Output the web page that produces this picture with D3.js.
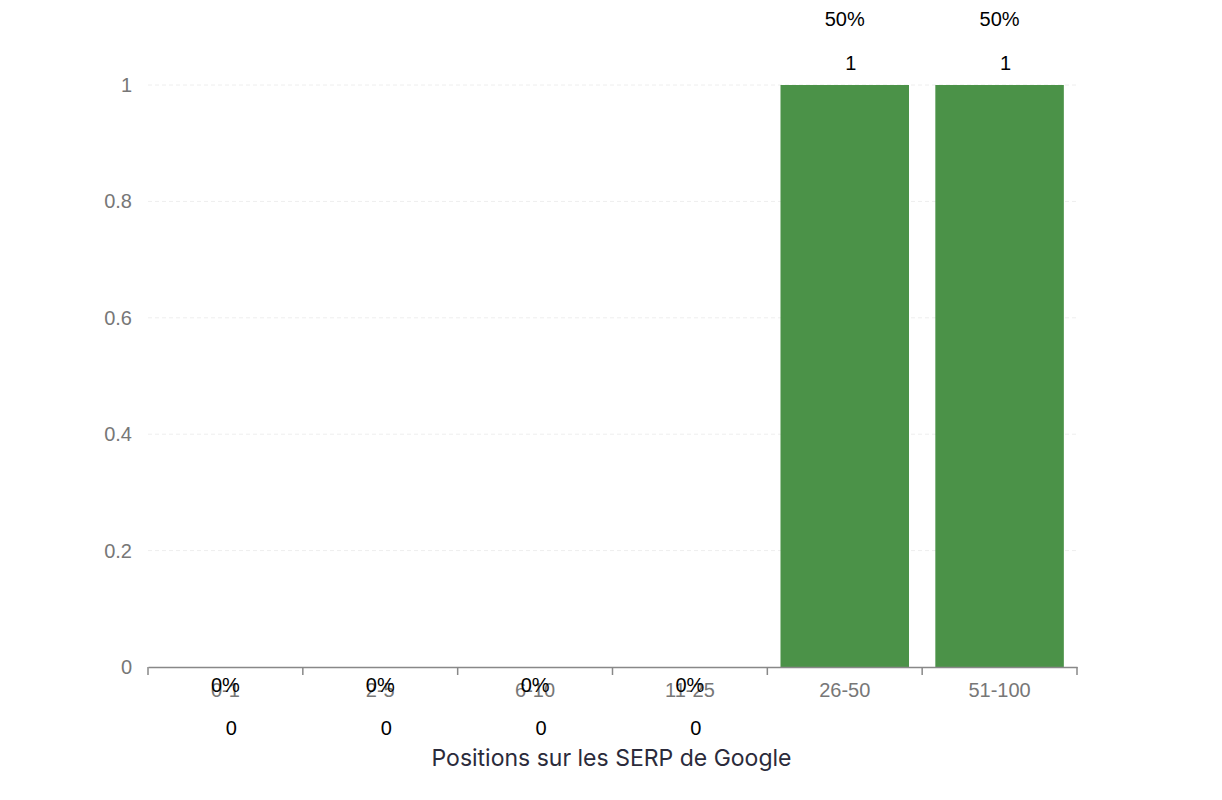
<html lang="fr">
<head>
<meta charset="utf-8">
<title>Positions sur les SERP de Google</title>
<script src="https://d3js.org/d3.v7.min.js"></script>
<style>
  body { margin: 0; background: #fff; font-family: "Liberation Sans", Arial, sans-serif; }
  .axis text { fill: #777; font-size: 20px; font-family: "Liberation Sans", Arial, sans-serif; }
  .axis path, .axis line { stroke: #888; }
</style>
</head>
<body>
<div id="chart"></div>
<script>
// data
var categories = ["0-1", "2-5", "6-10", "11-25", "26-50", "51-100"];
var counts = [0, 0, 0, 0, 1, 1];
var percents = ["0%", "0%", "0%", "0%", "50%", "50%"];
var yTicks = [0, 0.2, 0.4, 0.6, 0.8, 1];

var margin = {top: 85, right: 145, bottom: 133, left: 148},
    width = 1222 - margin.left - margin.right,
    height = 800 - margin.top - margin.bottom;

var svg = d3.select("#chart").append("svg")
    .attr("width", 1222)
    .attr("height", 800)
  .append("g")
    .attr("transform", "translate(" + margin.left + "," + margin.top + ")");

var x = d3.scaleBand().domain(categories).range([0, width]).paddingInner(0.17).paddingOuter(0.085);
var xb = d3.scaleBand().domain(categories).range([0, width]);
var y = d3.scaleLinear().domain([0, 1]).range([height, 0]);

// grid
svg.selectAll(".grid").data(yTicks.slice(1)).enter().append("line")
    .attr("x1", 0).attr("x2", width)
    .attr("y1", function(d) { return y(d); }).attr("y2", function(d) { return y(d); })
    .attr("stroke", "#eeeeee").attr("stroke-dasharray", "4,3");

// y axis (no line)
var yAxis = svg.append("g").attr("class", "axis")
    .call(d3.axisLeft(y).tickValues(yTicks).tickFormat(d3.format("~g")).tickSize(0).tickPadding(16));
yAxis.select(".domain").remove();

// bars
svg.selectAll(".bar").data(categories).enter().append("rect")
    .attr("x", function(d) { return x(d); })
    .attr("y", function(d, i) { return y(counts[i]); })
    .attr("width", x.bandwidth())
    .attr("height", function(d, i) { return height - y(counts[i]); })
    .attr("fill", "#4b9248");

// x axis
var xAxis = svg.append("g").attr("class", "axis")
    .attr("transform", "translate(0," + height + ")")
    .call(d3.axisBottom(xb).tickSize(0).tickPadding(16).tickSizeOuter(0));
xAxis.select(".domain").attr("stroke-width", 1.5);
// tick marks at band boundaries
xAxis.selectAll(".bnd").data(categories.concat([null])).enter().append("line")
    .attr("x1", function(d, i) { return i * xb.step(); })
    .attr("x2", function(d, i) { return i * xb.step(); })
    .attr("y1", 0).attr("y2", 8)
    .attr("stroke", "#888").attr("stroke-width", 1.5);

// value labels (above the bar, or under the axis when zero)
var labels = svg.selectAll(".lbl").data(categories).enter().append("g")
    .attr("transform", function(d, i) {
      return "translate(" + (xb(d) + xb.bandwidth() / 2) + "," + y(counts[i]) + ")";
    });
labels.append("text")
    .attr("text-anchor", "middle")
    .attr("x", 6)
    .attr("y", function(d, i) { return counts[i] > 0 ? -15 : 68; })
    .style("font-size", "20px").style("fill", "#000")
    .text(function(d, i) { return counts[i]; });
labels.append("text")
    .attr("text-anchor", "middle")
    .attr("y", function(d, i) { return counts[i] > 0 ? -59 : 25; })
    .style("font-size", "20px").style("fill", "#000")
    .text(function(d, i) { return percents[i]; });

// axis title
svg.append("text")
    .attr("x", width / 2 - 1)
    .attr("y", height + 99)
    .attr("text-anchor", "middle")
    .style("font-size", "23px").style("fill", "#2b2b3b")
    .style("font-family", "Inter, 'Noto Sans', sans-serif")
    .text("Positions sur les SERP de Google");
</script>
</body>
</html>
